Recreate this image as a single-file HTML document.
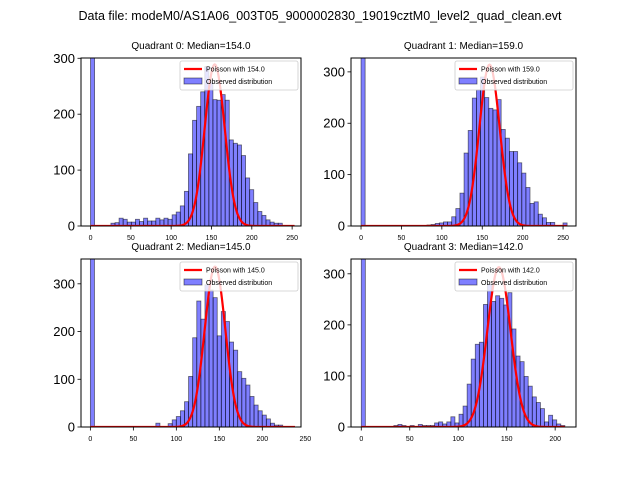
<!DOCTYPE html>
<html><head><meta charset="utf-8"><style>
body{margin:0;background:#fff;}
svg{display:block;font-family:"Liberation Sans","DejaVu Sans",sans-serif;}
</style></head><body>
<svg id="fig" width="640" height="480" viewBox="0 0 640 480">
<rect width="640" height="480" fill="#fff"/>
<text x="320" y="20" font-size="12.5" text-anchor="middle">Data file: modeM0/AS1A06_003T05_9000002830_19019cztM0_level2_quad_clean.evt</text>
</svg>
<script>
// Data arrays
const medians = [154.0, 159.0, 145.0, 142.0];
const binMax = [253, 255, 238, 210];
const peakHeights = [289, 314, 336, 313];
const q0Counts = [1000,0,0,0,0,5,6,14,12,7,7,12,8,14,9,9,14,11,14,12,20,25,36,62,129,189,214,240,285,256,226,225,235,225,154,148,145,126,86,65,42,26,19,11,7,5,5,0,0,0];
const q1Counts = [1000,0,0,0,0,0,0,0,0,0,0,0,0,0,0,0,2,3,5,6,8,8,18,34,64,142,186,249,265,290,250,229,226,246,188,171,145,145,123,103,75,44,47,23,16,7,7,0,0,6];
const q2Counts = [1000,0,0,0,0,0,0,0,0,0,0,0,0,0,0,0,8,0,0,7,15,22,34,53,106,187,264,226,298,287,271,191,242,221,178,161,116,102,88,64,46,34,25,17,8,4,4,0,0,0];
const q3Counts = [1000,0,0,0,0,0,0,0,3,5,3,0,3,0,5,3,3,3,8,10,6,10,20,8,25,41,84,133,162,166,240,280,246,257,252,239,263,192,139,128,99,80,59,48,36,10,23,14,6,3];
const yTicks = [[0,100,200,300],[0,100,200,300],[0,100,200,300],[0,100,200,300]];
const xTicks = [[0,50,100,150,200,250],[0,50,100,150,200,250],[0,50,100,150,200,250],[0,50,100,150,200]];
const counts = [q0Counts,q1Counts,q2Counts,q3Counts];

const panels = [
 {L:81,R:301,T:58,B:226,xmin:-11.8,xmax:261,ymax:300.5},
 {L:351,R:576,T:58,B:226,xmin:-12.4,xmax:266,ymax:327},
 {L:81,R:301,T:259,B:427,xmin:-10.9,xmax:245,ymax:352},
 {L:351,R:576,T:259,B:427,xmin:-10.6,xmax:221.5,ymax:329}
];
const NS='http://www.w3.org/2000/svg';
const fig=document.getElementById('fig');
function mk(tag,attrs,parent){const e=document.createElementNS(NS,tag);for(const k in attrs)e.setAttribute(k,attrs[k]);(parent||fig).appendChild(e);return e;}
const defs=mk('defs',{});
panels.forEach((p,i)=>{
  const cp=mk('clipPath',{id:'clip'+i},defs);
  mk('rect',{x:p.L,y:p.T,width:p.R-p.L,height:p.B-p.T},cp);
  const xs=v=>p.L+(v-p.xmin)/(p.xmax-p.xmin)*(p.R-p.L);
  const ys=v=>p.B-v/p.ymax*(p.B-p.T);
  const g=mk('g',{});
  
  
  const t=mk('text',{x:(p.L+p.R)/2,y:p.T-9,'font-size':'10','text-anchor':'middle'},g);
  t.textContent='Quadrant '+i+': Median='+medians[i].toFixed(1);
  
  
  const pg=mk('g',{'clip-path':'url(#clip'+i+')'},g);
  const w=binMax[i]/counts[i].length;
  counts[i].forEach((c,k)=>{
    if(c<=0)return;
    const x0=xs(k*w),x1=xs((k+1)*w);
    const r=mk('rect',{x:x0,y:ys(c),width:x1-x0,height:ys(0)-ys(c),fill:'#0000ff','fill-opacity':'0.5',stroke:'#000','stroke-opacity':'0.55','stroke-width':'0.8'},pg);
    
    
  });
  let d='';
  const mu=medians[i];
  for(let x=0;x<=binMax[i];x+=1){
    const v=peakHeights[i]*Math.exp(-(x-mu)*(x-mu)/(2*mu));
    d+=(x===0?'M':'L')+xs(x).toFixed(2)+','+ys(v).toFixed(2);
  }
  const ln=mk('path',{d:d,fill:'none',stroke:'#ff0000','stroke-width':'2.2'},pg);
  
  
  mk('rect',{x:p.L,y:p.T,width:p.R-p.L,height:p.B-p.T,fill:'none',stroke:'#000','stroke-width':'1'},g);
  yTicks[i].forEach(v=>{
    if(v>p.ymax)return;
    const y=ys(v);
    mk('line',{x1:p.L-3.5,x2:p.L,y1:y,y2:y,stroke:'#000','stroke-width':'0.8'},g);
    const tl=mk('text',{x:p.L-6,y:y+4.5,'font-size':'13','text-anchor':'end'},g);
    tl.textContent=v;
    
    
  });
  xTicks[i].forEach(v=>{
    const x=xs(v);
    if(x<=p.R+0.5) mk('line',{x1:x,x2:x,y1:p.B,y2:p.B+3.5,stroke:'#000','stroke-width':'0.8'},g);
    const tl=mk('text',{x:x,y:p.B+14,'font-size':'7','text-anchor':'middle'},g);
    tl.textContent=v;
    
    
  });
  // legend
  const lg=mk('g',{},g);
  
  
  const lx=p.R-121,ly=p.T+3;
  mk('rect',{x:lx,y:ly,width:118,height:29,rx:2,fill:'#fff','fill-opacity':'0.8',stroke:'#ccc','stroke-width':'0.8'},lg);
  mk('line',{x1:lx+4,x2:lx+22,y1:ly+8,y2:ly+8,stroke:'#ff0000','stroke-width':'2.2'},lg);
  const t1=mk('text',{x:lx+26,y:ly+10.5,'font-size':'7'},lg);
  t1.textContent='Poisson with '+medians[i].toFixed(1);
  mk('rect',{x:lx+4,y:ly+17,width:18,height:6,fill:'#0000ff','fill-opacity':'0.5',stroke:'#000','stroke-opacity':'0.55','stroke-width':'0.8'},lg);
  const t2=mk('text',{x:lx+26,y:ly+23,'font-size':'7'},lg);
  t2.textContent='Observed distribution';
});
</script>
</body></html>
